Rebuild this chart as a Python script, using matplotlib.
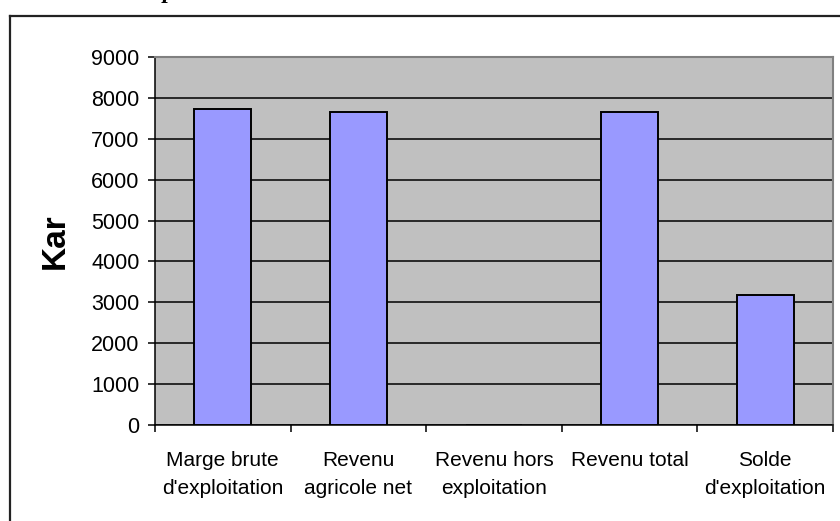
import matplotlib.pyplot as plt
from matplotlib.lines import Line2D
import numpy as np

plt.rcParams['font.family'] = ['Liberation Sans', 'DejaVu Sans']

categories = ["Marge brute\nd'exploitation", "Revenu\nagricole net",
              "Revenu hors\nexploitation", "Revenu total", "Solde\nd'exploitation"]
values = [7740, 7650, 0, 7650, 3170]
yticks = [0, 1000, 2000, 3000, 4000, 5000, 6000, 7000, 8000, 9000]

W, H = 840, 521
fig = plt.figure(figsize=(W / 100, H / 100), dpi=100)
ax = fig.add_axes([155 / W, 1 - 425 / H, (833 - 155) / W, (425 - 57) / H])

x = np.arange(len(categories))
ax.set_facecolor('#c0c0c0')
ax.set_axisbelow(True)
ax.yaxis.grid(True, color='black', linewidth=1.1)
ax.bar(x, values, width=0.42, color='#9999ff', edgecolor='black', linewidth=1.4, zorder=3)

ax.set_xlim(-0.5, len(categories) - 0.5)
ax.set_ylim(0, 9000)
ax.set_yticks(yticks)
ax.set_yticklabels([str(v) for v in yticks], fontsize=15.5)

# ticks sit between categories, labels under each bar
ax.set_xticks(np.arange(len(categories) + 1) - 0.5)
ax.set_xticklabels([])
ax.set_xticks(x, minor=True)
ax.set_xticklabels(categories, minor=True, fontsize=15, linespacing=1.6)
ax.tick_params(axis='x', which='minor', length=0, pad=19)
ax.tick_params(axis='both', which='major', direction='out', length=5, width=1.1, color='black')
ax.tick_params(axis='y', pad=6)

for side in ['top', 'right']:
    ax.spines[side].set_color('#808080')
    ax.spines[side].set_linewidth(1.5)
for side in ['left', 'bottom']:
    ax.spines[side].set_color('black')
    ax.spines[side].set_linewidth(1.1)

ax.set_ylabel('Kar', fontsize=24, fontweight='bold')
ax.yaxis.set_label_coords(-0.125, 0.5)

# outer chart frame, running off the right and bottom edges
fig.add_artist(Line2D([10 / W, 10 / W], [0, 1 - 16 / H], color='#222222', linewidth=1.6))
fig.add_artist(Line2D([10 / W, 1], [1 - 16 / H, 1 - 16 / H], color='#222222', linewidth=1.6))

# heading text above the frame, cut by the top edge
fig.text(163 / W, 1 + 2 / H, 'p', fontsize=17, fontweight='bold', fontstyle='italic',
         family='Liberation Serif', va='baseline', ha='left')

fig.savefig('out.png', dpi=100, facecolor='white')
